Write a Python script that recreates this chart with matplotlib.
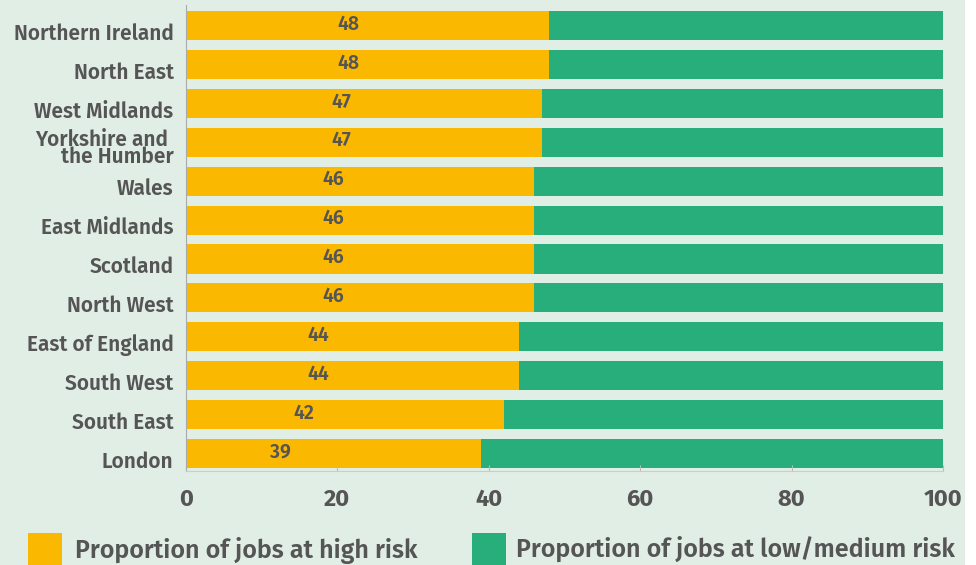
import matplotlib
matplotlib.use("Agg")
import matplotlib.pyplot as plt
from matplotlib.patches import Rectangle

regions = ["London", "South East", "South West", "East of England", "North West",
           "Scotland", "East Midlands", "Wales", "Yorkshire and \nthe Humber",
           "West Midlands", "North East", "Northern Ireland"]
high_risk = [39, 42, 44, 44, 46, 46, 46, 46, 47, 47, 48, 48]
low_risk = [100 - v for v in high_risk]

bg = "#e1eee5"
yellow = "#fbb800"
green = "#27ae7a"
text_color = "#555555"
font = ["Fira Sans", "DejaVu Sans"]

fig = plt.figure(figsize=(9.76, 5.65), dpi=100, facecolor=bg)
ax = fig.add_axes([186 / 976, 1 - 471 / 565, (943 - 186) / 976, 466 / 565])
ax.set_facecolor(bg)

y = list(range(len(regions)))
ax.barh(y, high_risk, height=0.75, color=yellow)
ax.barh(y, low_risk, left=high_risk, height=0.75, color=green)

for yi, v in zip(y, high_risk):
    ax.text(v - 26.5, yi + 0.04, str(v), ha="center", va="center", fontsize=14,
            fontweight=600, color=text_color, family=font)

ax.set_xlim(0, 100)
ax.set_ylim(-0.45, 11.53)
# region names sit a little below the bar centres (ticks are hidden)
ax.set_yticks([yi - 0.15 for yi in y])
ax.set_yticklabels(regions, fontsize=15, fontweight=600, color=text_color,
                   family=font, linespacing=0.75)

ax.set_xticks([0, 20, 40, 60, 80, 100])
ax.set_xticklabels(["0", "20", "40", "60", "80", "100"], fontsize=17,
                   fontweight="bold", color=text_color, family=font)
ax.tick_params(axis="y", length=0, pad=9)
ax.tick_params(axis="x", direction="in", length=4, color="#bbbbbb", pad=12)

for s in ["top", "right"]:
    ax.spines[s].set_visible(False)
ax.spines["left"].set_color("#aaaaaa")
ax.spines["bottom"].set_color("#cccccc")

# legend
fig.patches.append(Rectangle((28 / 976, 0), 34 / 976, 32 / 565, transform=fig.transFigure,
                             facecolor=yellow, edgecolor="none"))
fig.patches.append(Rectangle((472 / 976, 0), 34 / 976, 32 / 565, transform=fig.transFigure,
                             facecolor=green, edgecolor="none"))
fig.text(75 / 976, 1 - 551 / 565, "Proportion of jobs at high risk", fontsize=18,
         fontweight=600, color=text_color, family=font, va="center")
fig.text(516 / 976, 1 - 549 / 565, "Proportion of jobs at low/medium risk", fontsize=18,
         fontweight=600, color=text_color, family=font, va="center")

# white strip at the right edge
fig.add_artist(Rectangle((965 / 976, 0), 11 / 976, 1, transform=fig.transFigure,
                         facecolor="white", edgecolor="none", zorder=10))

plt.savefig("out.png", dpi=100, facecolor=bg)
